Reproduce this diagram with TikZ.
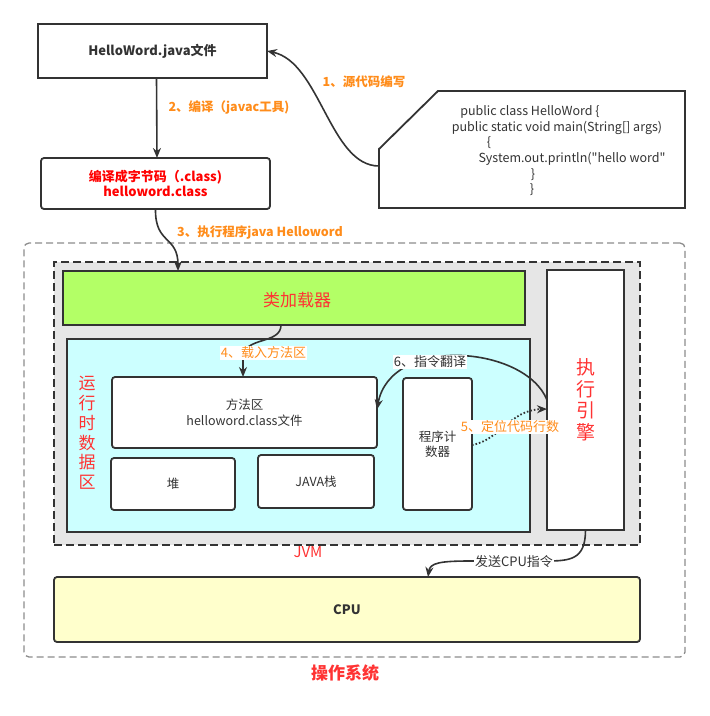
\documentclass[tikz,border=0pt]{standalone}
\usepackage{fontspec}
\setmainfont{Noto Sans CJK SC}
\usetikzlibrary{arrows.meta}
\newcommand\mydq{\XeTeXglyph\XeTeXcharglyph"22 }
\definecolor{dk}{HTML}{333333}
\definecolor{org}{HTML}{FF8C1A}
\definecolor{rd}{HTML}{FF3333}
\definecolor{jvmfill}{HTML}{E6E6E6}
\definecolor{grn}{HTML}{B3FF66}
\definecolor{cyn}{HTML}{CCFFFF}
\definecolor{ylw}{HTML}{FFFFCC}
\definecolor{osline}{HTML}{8C8C8C}
\tikzset{
  box/.style={draw=dk, line width=1.8pt, inner sep=0pt, outer sep=0pt, align=center, text=dk, font=\fontsize{12.5}{15.5}\selectfont},
  rbox/.style={box, rounded corners=3pt, fill=white},
  arr/.style={draw=dk, line width=1.6pt, -{Stealth[length=10pt,width=8pt]}},
  olab/.style={text=org, font=\fontsize{12.5}{15}\selectfont\bfseries, inner sep=1pt},
  olabw/.style={text=org, font=\fontsize{13}{15}\selectfont, fill=white, inner sep=1pt},
  glab/.style={text=dk, font=\fontsize{13}{15}\selectfont, fill=white, inner sep=1pt},
  codet/.style={text=dk, font=\fontsize{12.5}{15}\selectfont, inner sep=0pt},
}
\begin{document}
\begin{tikzpicture}[x=1pt,y=-1pt]
\useasboundingbox (0,0) rectangle (710,716);
% OS
\node[draw=osline, line width=1.3pt, dash pattern=on 7pt off 4pt, rounded corners=5pt, minimum width=661, minimum height=414, inner sep=0pt] (os) at (354.5,450) {};
\node[text=rd, font=\fontsize{17}{20}\selectfont\bfseries] (oslab) at (345,673) {操作系统};
% JVM
\node[draw=dk, fill=jvmfill, line width=1.8pt, dash pattern=on 8pt off 4pt, minimum width=586, minimum height=283, inner sep=0pt] (jvm) at (347,403.5) {};
\node[text=rd, font=\fontsize{15}{18}\selectfont] (jvmlab) at (308,552) {JVM};
% top boxes
\node[box, minimum width=229, minimum height=54, font=\fontsize{13}{15}\selectfont\bfseries] (java) at (152.5,51) {HelloWord.java文件};
\node[rbox, minimum width=229, minimum height=51, text=red, font=\fontsize{13}{15.5}\selectfont\bfseries] (cls) at (155.5,183.5) {编译成字节码（.class)\\ helloword.class};
% code box
\draw[draw=dk, line width=1.8pt, fill=white] (438,91) -- (685,91) -- (685,208) -- (379,208) -- (379,149) -- cycle;
\coordinate (codeL) at (379,166);
\node[codet] (c1) at (530,112) {public class HelloWord \{};
\node[codet] (c2) at (557,128) {public static void main(String[] args)};
\node[codet] (c3) at (489,143) {\{};
\node[codet] (c4) at (572,159) {System.out.println(\mydq hello word\mydq};
\node[codet] (c5) at (533,175) {\}};
\node[codet] (c6) at (532,190) {\}};
% arrows top
\draw[arr] (codeL) .. controls (330,166) and (320,62) .. (java.east);
\node[olab] (l1) at (364,82) {1、源代码编写};
\draw[arr] ([xshift=4pt]java.south) -- ([xshift=1.5pt]cls.north);
\node[olab] (l2) at (229,107) {2、编译（javac工具)};
% inside JVM
\node[box, fill=grn, line width=1.5pt, minimum width=462, minimum height=54] (grn) at (294,298) {};
\node[text=rd, font=\fontsize{17}{20}\selectfont] (grnlab) at (297,300) {类加载器};
\draw[arr] (cls.south) .. controls (155,245) and (178,235) .. ([xshift=-116pt]grn.north);
\node[olab] (l3) at (260,232) {3、执行程序java Helloword};
\node[box, fill=cyn, line width=1.5pt, minimum width=463, minimum height=193] (cyn) at (298.5,435.5) {};
\node[text=rd, align=center, font=\fontsize{17}{19.8}\selectfont, inner sep=0pt] (rtlab) at (87,433) {运\\行\\时\\数\\据\\区};
\node[rbox, minimum width=265, minimum height=71] (meth) at (244.5,412.5) {方法区\\helloword.class文件};
\node[rbox, minimum width=124, minimum height=52] (heap) at (173,484) {堆};
\node[rbox, minimum width=116, minimum height=53] (stack) at (316,481.5) {JAVA栈};
\node[rbox, minimum width=69, minimum height=132] (pc) at (437.5,444) {程序计\\数器};
\node[box, fill=white, minimum width=77, minimum height=260] (exec) at (585.5,400) {};
\node[text=rd, align=center, font=\fontsize{19}{21.5}\selectfont, inner sep=0pt] (execlab) at (586,400) {执\\行\\引\\擎};
% CPU
\node[rbox, fill=ylw, minimum width=586, minimum height=65, font=\fontsize{13}{15}\selectfont\bfseries] (cpu) at (347,609.5) {CPU};
% inner arrows
\draw[arr] ([xshift=-13pt]grn.south) .. controls (281,345) and (243,336) .. (243,358) -- ([xshift=-1.5pt]meth.north);
\node[olabw] (l4) at (263.5,353) {4、载入方法区};
\draw[arr] ([yshift=0pt]exec.west) .. controls (525,345) and (390,335) .. ([yshift=3pt]meth.east);
\node[glab] (l6) at (430,362) {6、指令翻译};
\draw[arr, dotted, line width=1.8pt] ([yshift=-1pt]pc.east) .. controls (500,440) and (510,410) .. ([yshift=-9pt]exec.west);
\node[olabw] (l5) at (510,427) {5、定位代码行数};
\draw[arr] (exec.south) .. controls (585.5,560) and (570,561) .. (545,561) -- (470,561) .. controls (440,561) and (430,563) .. ([xshift=81pt]cpu.north);
\node[glab] (l7) at (514,562) {发送CPU指令};
\end{tikzpicture}
\end{document}
